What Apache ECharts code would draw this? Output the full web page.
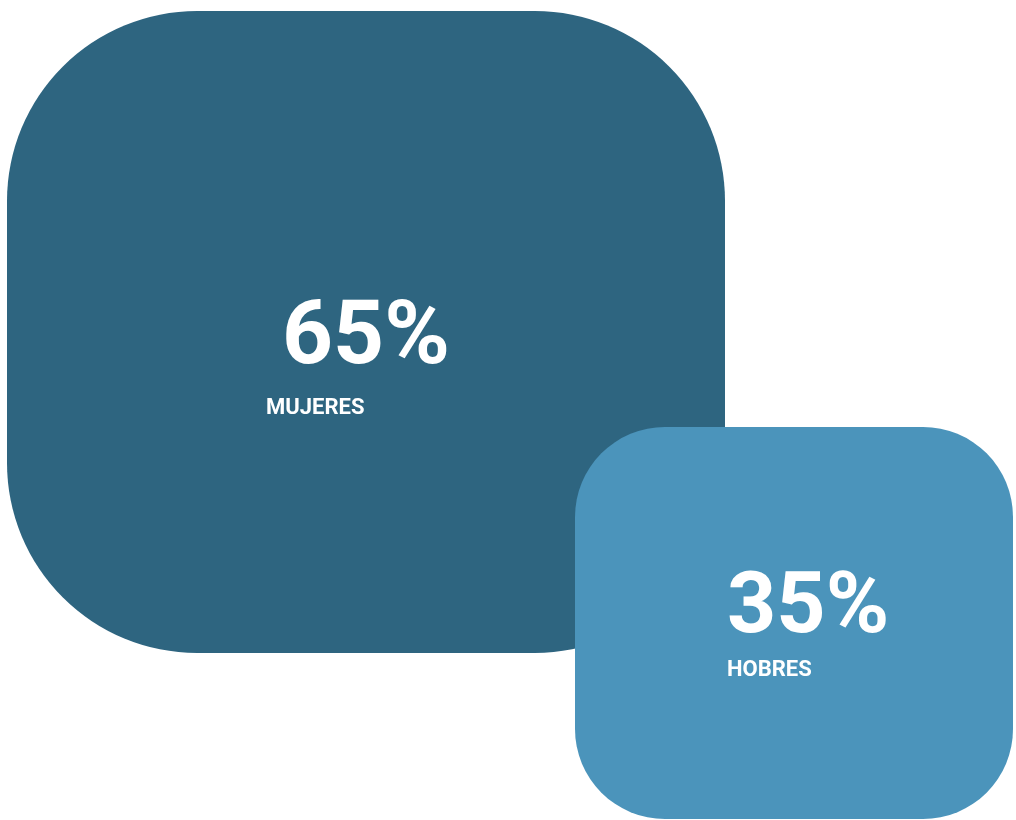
<!DOCTYPE html>
<html>
<head>
<meta charset="utf-8">
<script src="https://cdn.jsdelivr.net/npm/echarts@6/dist/echarts.min.js"></script>
<style>html,body{margin:0;padding:0;background:#fff}#c{width:1016px;height:820px}</style>
</head>
<body>
<div id="c"></div>
<script>
// ---- data ----
var categories = ['MUJERES', 'HOBRES'];
var values = [65, 35];

// ---- layout (box extents in axis units, separate from data) ----
var boxLayout = [
  { x0: 7,   y0: 11,  x1: 725,  y1: 653, r: 190, valueX: 366, valueY: 341, labelX: 266, labelY: 408, valueAlign: 'center', valueSize: 89 },
  { x0: 575, y0: 427, x1: 1013, y1: 819, r: 90,  valueX: 727, valueY: 610, labelX: 727, labelY: 670, valueAlign: 'left', valueSize: 86 }
];
var colors = ['#2e6580', '#4b94bb'];

var seriesData = categories.map(function (c, i) { return { name: c, value: [i, values[i]] }; });

var chart = echarts.init(document.getElementById('c'), null, { renderer: 'canvas' });
chart.setOption({
  animation: false,
  grid: { left: 0, right: 0, top: 0, bottom: 0 },
  xAxis: { type: 'value', min: 0, max: 1016, show: false },
  yAxis: { type: 'value', min: 0, max: 820, inverse: true, show: false },
  series: [{
    type: 'custom',
    coordinateSystem: 'cartesian2d',
    data: seriesData,
    renderItem: function (params, api) {
      var i = api.value(0);
      var v = api.value(1);
      var L = boxLayout[i];
      var p0 = api.coord([L.x0, L.y0]);
      var p1 = api.coord([L.x1, L.y1]);
      var pv = api.coord([L.valueX, L.valueY]);
      var pl = api.coord([L.labelX, L.labelY]);
      return {
        type: 'group',
        children: [
          { type: 'rect', shape: { x: p0[0], y: p0[1], width: p1[0] - p0[0], height: p1[1] - p0[1], r: L.r },
            style: { fill: colors[i] } },
          { type: 'text', x: pv[0], y: pv[1],
            style: { text: v + '%', fill: '#fff', font: '700 ' + L.valueSize + 'px Roboto', align: L.valueAlign, verticalAlign: 'middle' } },
          { type: 'text', x: pl[0], y: pl[1],
            style: { text: categories[i], fill: '#fff', font: '700 22px Roboto', align: 'left', verticalAlign: 'middle' } }
        ]
      };
    }
  }]
});
</script>
</body>
</html>
